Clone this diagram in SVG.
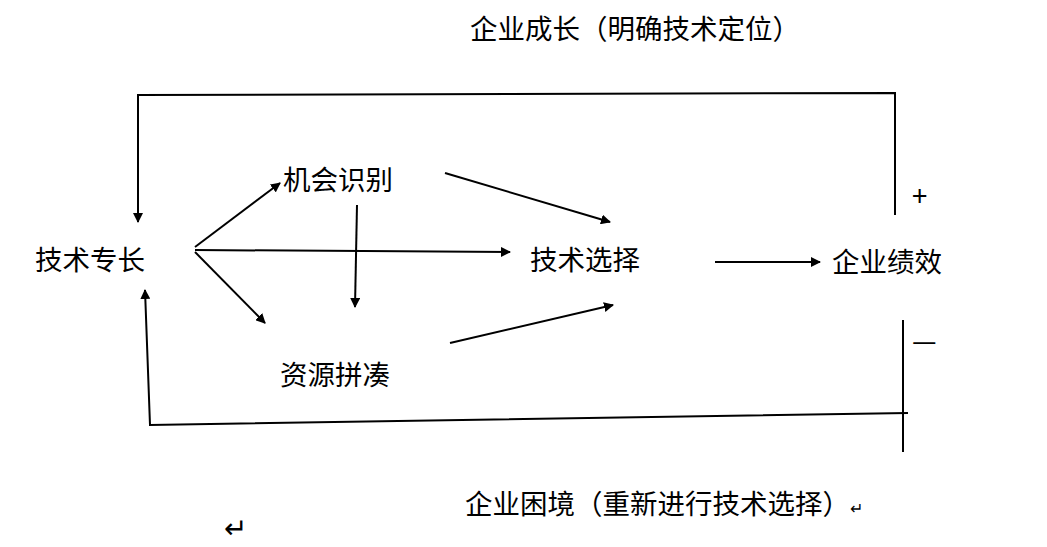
<svg xmlns="http://www.w3.org/2000/svg" width="1047" height="547" viewBox="0 0 1047 547">
<defs>
<marker id="ah" markerWidth="10" markerHeight="10" refX="9" refY="5" orient="auto" markerUnits="userSpaceOnUse"><path d="M0,0 L10,5 L0,10 Z" fill="#000"/></marker>
<style>
text{font-family:"Noto Sans CJK SC","Liberation Sans",sans-serif;font-size:27.5px;fill:#000}
.c{stroke:#000;stroke-width:2;fill:none}
</style>
</defs>
<rect width="1047" height="547" fill="#fff"/>
<g id="connectors">
<path class="c" d="M895,215 L895,93 L138,95 L138,222" marker-end="url(#ah)"/>
<path class="c" d="M903,320 L903,452"/>
<path class="c" d="M908,413 L150,425 L145,290" marker-end="url(#ah)"/>
<line class="c" x1="195" y1="247" x2="280" y2="183" marker-end="url(#ah)"/>
<line class="c" x1="195" y1="250" x2="510" y2="252" marker-end="url(#ah)"/>
<line class="c" x1="195" y1="252" x2="265" y2="323" marker-end="url(#ah)"/>
<line class="c" x1="357" y1="205" x2="355" y2="307" marker-end="url(#ah)"/>
<line class="c" x1="445" y1="173" x2="610" y2="222" marker-end="url(#ah)"/>
<line class="c" x1="450" y1="343" x2="613" y2="305" marker-end="url(#ah)"/>
<line class="c" x1="715" y1="262" x2="820" y2="262" marker-end="url(#ah)"/>
</g>
<g id="n1"><text x="35" y="270">技术专长</text></g>
<g id="n2"><text x="283" y="190">机会识别</text></g>
<g id="n3"><text x="530" y="270">技术选择</text></g>
<g id="n4"><text x="832" y="272">企业绩效</text></g>
<g id="n5"><text x="280" y="385">资源拼凑</text></g>
<g id="labels">
<text x="470" y="39">企业成长（明确技术定位）</text>
<text x="912" y="206" font-size="24">+</text>
<text x="912" y="351" font-size="24">—</text>
<text x="465" y="514">企业困境（重新进行技术选择）<tspan font-size="16">↵</tspan></text>
<text x="224" y="538" font-size="12">↵</text>
</g>
</svg>
